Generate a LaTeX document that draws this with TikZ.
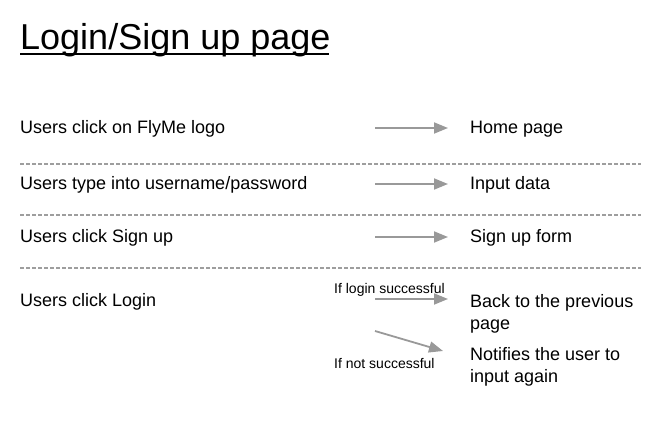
\documentclass[tikz,border=0pt]{standalone}
\usepackage{fontspec}
\setmainfont{Liberation Sans}
\usetikzlibrary{arrows.meta}
\begin{document}
\begin{tikzpicture}[x=1pt,y=-1pt,
  body/.style={anchor=base west,inner sep=0pt,font=\fontsize{18}{22}\selectfont},
  small/.style={anchor=base west,inner sep=0pt,font=\fontsize{14}{16}\selectfont},
  flow/.style={draw=black!40,line width=1.8pt,-{Triangle[length=14pt,width=11pt]}},
  divider/.style={draw=black!38,line width=1.4pt,dash pattern=on 4pt off 2pt}]
\useasboundingbox (0,0) rectangle (670,433);

% title
\node[anchor=base west,inner sep=0pt,font=\fontsize{36}{40}\selectfont] (title) at (20,50) {Login/Sign up page};
\draw[line width=2pt] (20,54) -- (329,54);

% left column: user actions
\node[body] (a1) at (20,134) {Users click on FlyMe logo};
\node[body] (a2) at (20,190) {Users type into username/password};
\node[body] (a3) at (20,243) {Users click Sign up};
\node[body] (a4) at (20,306) {Users click Login};

% right column: results (base anchor sits on the last line)
\node[body] (r1) at (470,134) {Home page};
\node[body] (r2) at (470,190) {Input data};
\node[body] (r3) at (470,243) {Sign up form};
\node[body,align=left] (r4) at (470,329) {Back to the previous\\page};
\node[body,align=left] (r5) at (470,382) {Notifies the user to\\input again};

% condition labels
\node[small] (c1) at (334,293) {If login successful};
\node[small] (c2) at (334,368) {If not successful};

% arrow end points
\coordinate (s1) at (375,128); \coordinate (e1) at (448,128);
\coordinate (s2) at (375,184); \coordinate (e2) at (448,184);
\coordinate (s3) at (375,237); \coordinate (e3) at (448,237);
\coordinate (s4) at (375,299); \coordinate (e4) at (448,299);
\coordinate (s5) at (375,331); \coordinate (e5) at (443,351);
\draw[flow] (s1) -- (e1);
\draw[flow] (s2) -- (e2);
\draw[flow] (s3) -- (e3);
\draw[flow] (s4) -- (e4);
\draw[flow] (s5) -- (e5);

% row dividers
\coordinate (d1a) at (20,164); \coordinate (d1b) at (641,164);
\coordinate (d2a) at (20,215); \coordinate (d2b) at (641,215);
\coordinate (d3a) at (20,268); \coordinate (d3b) at (641,268);
\draw[divider] (d1a) -- (d1b);
\draw[divider] (d2a) -- (d2b);
\draw[divider] (d3a) -- (d3b);
\end{tikzpicture}
\end{document}
